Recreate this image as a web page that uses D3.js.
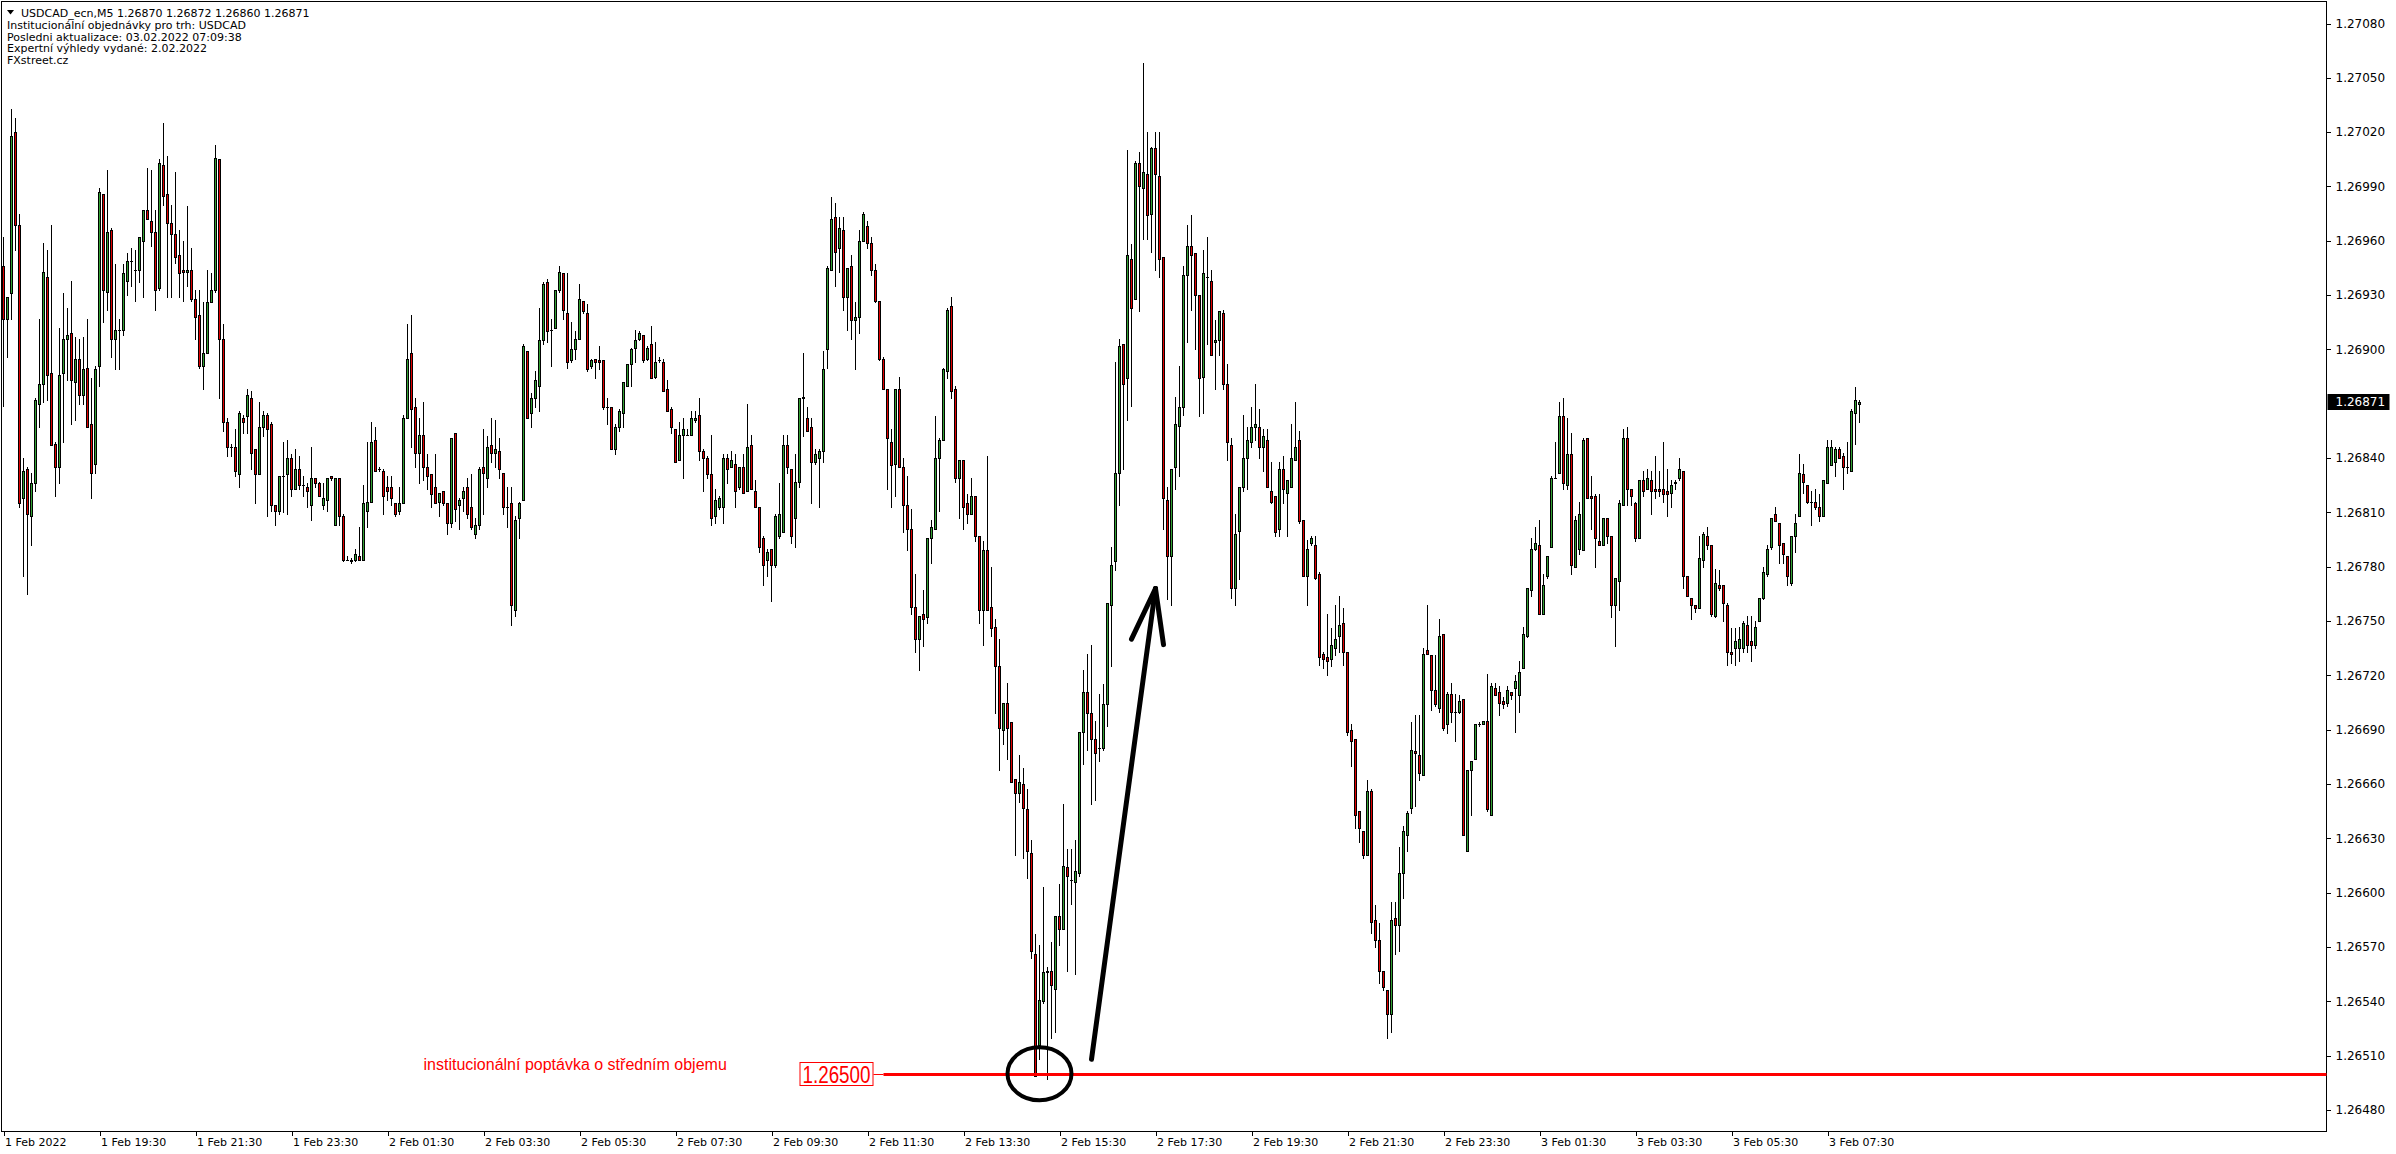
<!DOCTYPE html>
<html><head><meta charset="utf-8">
<script src="https://cdn.jsdelivr.net/npm/d3@7"></script>
<style>
html,body{margin:0;padding:0;background:#fff;overflow:hidden;}
svg{display:block;}
</style></head><body>
<svg id="chart" width="2396" height="1154"></svg>
<script>
// ---------- DATA (prices in 1/100000 above 1.26000) ----------
const BASE = 1.26;
const START = "2022-02-01 17:30"; // first 5-minute bar
const opens = [
946,917,931,1020,969,818,834,808,826,870,
881,940,887,848,835,887,906,909,882,895,
875,890,859,837,891,986,932,966,906,911,
911,938,949,944,944,960,977,971,965,934,
1002,986,970,964,952,944,943,944,928,919,
891,898,926,933,1005,906,860,846,846,831,
862,863,873,845,831,857,864,859,814,811,
830,831,840,823,834,825,824,814,829,826,
814,817,830,803,829,808,784,784,784,786,
784,811,816,850,834,833,824,824,815,811,
815,862,898,868,843,853,835,831,824,816,
822,815,804,854,814,818,824,813,798,803,
835,829,847,843,844,832,813,815,756,807,
817,899,865,873,880,905,937,911,912,933,
942,920,894,900,906,927,920,891,895,894,
894,868,868,845,857,865,880,892,901,906,
908,895,903,885,894,893,878,867,856,839,
853,853,853,861,864,844,840,831,808,813,
813,840,835,837,824,835,822,847,822,813,
796,784,790,781,797,799,847,834,807,827,
873,862,857,838,840,844,900,944,973,956,
966,929,946,916,918,960,968,959,944,927,
895,878,849,837,878,835,814,801,758,740,
754,752,796,801,840,850,888,924,878,829,
839,815,809,819,797,756,789,758,747,725,
690,705,694,663,655,660,646,622,566,516,
540,556,557,547,587,580,614,607,606,611,
689,711,699,685,680,680,704,759,783,832,
903,884,950,928,1003,989,997,975,1011,996,
951,817,786,835,858,868,941,957,953,930,
885,940,938,904,905,920,881,847,768,800,
824,840,849,857,857,846,850,822,819,801,
834,821,824,839,850,806,775,793,792,776,
732,730,729,735,742,749,733,690,685,645,
634,621,656,585,574,557,546,533,586,582,
611,632,647,678,676,665,734,731,712,702,
743,693,710,700,700,707,623,668,674,693,
693,695,643,713,711,706,705,711,713,709,
724,742,767,790,792,754,775,791,829,832,
863,825,842,780,790,789,851,819,819,794,
792,807,797,759,772,814,851,823,815,796,
828,823,828,823,823,823,822,821,826,829,
833,775,763,759,757,784,797,792,753,770,
770,759,733,735,735,735,748,739,737,750,
763,776,791,809,804,793,786,771,797,808,
831,825,816,816,813,808,826,836,838,845,
841,835,833,865,870];
const highs = [
962,929,1033,1028,975,840,835,832,873,917,
959,955,969,849,912,931,923,938,907,906,
907,917,884,891,989,986,999,967,947,917,
947,953,956,955,962,977,1000,999,977,1005,
1025,1007,980,998,966,960,979,956,933,933,
926,944,942,1013,1005,914,862,848,856,866,
864,878,877,845,871,866,865,860,814,830,
849,850,842,845,841,830,826,846,829,827,
826,829,830,829,829,809,786,785,790,802,
825,849,860,857,835,834,830,830,815,824,
864,914,919,873,862,871,842,831,842,821,
822,815,851,854,818,824,829,831,807,835,
856,852,862,861,851,832,824,824,808,816,
903,899,876,888,923,937,939,917,933,946,
942,942,915,910,936,927,925,895,895,902,
894,873,868,859,867,882,892,901,911,910,
908,902,913,904,896,895,883,868,856,860,
862,856,866,866,873,845,841,853,823,819,
842,842,844,842,835,842,870,853,828,813,
797,790,790,809,826,853,853,834,842,873,
898,868,862,845,845,899,946,984,981,973,
973,945,952,926,966,976,971,962,947,927,
896,878,856,878,885,840,830,812,776,753,
767,796,806,863,851,890,923,929,880,839,
839,820,829,819,797,794,841,780,751,740,
705,716,694,663,676,669,657,629,577,571,
603,559,573,587,605,649,624,624,629,689,
723,732,737,695,710,715,760,791,893,906,
903,1010,958,1004,1009,1058,1020,1012,1020,1020,
951,824,834,874,891,946,969,974,953,930,
955,962,944,916,921,922,892,851,809,824,
864,857,868,881,867,856,856,838,819,838,
841,828,859,871,855,806,795,797,797,777,
733,754,746,759,764,757,733,693,685,645,
634,662,657,593,583,557,546,595,595,625,
637,645,694,698,698,735,759,731,731,751,
743,711,716,710,709,707,668,673,693,694,
695,721,716,716,714,708,714,711,720,728,
747,768,796,802,806,776,786,830,849,871,
873,862,854,808,816,851,851,830,820,820,
807,807,797,774,817,856,857,823,816,828,
833,834,833,841,833,849,834,828,828,840,
833,775,763,759,797,799,802,792,779,778,
770,760,746,746,747,750,753,753,750,763,
780,792,807,813,804,793,786,797,809,842,
837,825,822,823,820,828,850,850,846,846,
843,849,867,879,872];
const lows = [
869,896,917,955,813,775,765,792,822,857,
871,872,847,819,826,849,883,859,861,870,
870,857,818,832,880,915,922,896,889,889,
908,930,935,927,937,929,972,957,922,933,
980,929,929,948,929,927,935,927,906,890,
878,898,926,932,873,855,841,841,830,824,
854,854,834,815,831,852,808,811,803,809,
810,809,819,823,823,819,813,806,824,819,
812,811,828,803,803,783,784,782,783,784,
784,802,816,833,833,809,817,814,808,809,
815,862,846,835,826,828,823,813,815,808,
814,798,802,805,801,811,807,801,796,801,
809,824,838,835,829,809,802,748,753,796,
817,862,857,868,866,903,904,891,912,932,
917,890,893,895,906,920,888,890,884,889,
867,859,845,842,855,857,880,880,893,905,
893,894,884,884,893,877,866,854,838,839,
829,853,853,860,839,822,829,803,804,812,
804,826,835,813,823,821,822,823,813,788,
770,775,761,780,796,799,832,793,791,824,
852,855,815,837,813,838,890,944,935,943,
922,911,906,889,909,960,956,941,926,894,
878,823,813,819,835,799,789,754,733,723,
736,749,782,801,811,850,884,873,827,807,
801,804,809,794,749,737,756,742,699,668,
682,674,661,621,650,619,608,564,499,508,
539,497,520,523,571,580,557,594,555,609,
671,679,649,651,673,679,692,725,778,814,
834,861,869,928,921,961,961,954,944,940,
801,762,759,823,830,864,904,922,900,863,
865,903,897,878,897,878,839,763,759,773,
822,823,846,850,840,833,824,815,797,797,
815,797,824,839,804,775,759,792,773,726,
724,720,725,731,733,726,687,670,636,628,
619,621,578,570,550,546,520,523,566,568,
597,623,644,648,662,665,732,701,703,700,
690,688,694,684,699,632,623,643,674,692,
693,645,643,709,698,702,703,707,689,700,
724,741,764,789,754,754,774,791,829,832,
823,823,776,780,787,789,818,801,780,792,
792,793,752,736,756,814,814,814,794,796,
819,823,809,818,819,816,808,813,823,828,
768,764,751,755,757,780,790,753,752,767,
750,726,727,726,728,733,733,728,735,750,
762,775,790,805,782,782,770,770,788,808,
821,815,803,812,805,808,826,836,830,840,
823,832,833,848,860];
const closes = [
917,929,1018,969,815,833,809,826,872,881,
943,886,847,835,886,906,908,883,895,875,
889,857,832,889,987,933,965,906,911,911,
942,949,949,944,962,977,972,965,933,1003,
985,970,964,951,942,943,944,928,918,891,
898,926,933,1006,906,860,846,846,833,865,
860,875,843,831,857,864,856,814,811,830,
830,840,823,834,825,825,822,829,826,819,
818,829,829,829,808,784,784,783,787,784,
815,816,849,833,834,819,822,818,809,815,
862,895,867,843,853,835,830,820,815,821,
815,804,851,812,817,822,809,802,803,834,
832,846,843,845,834,813,813,759,806,815,
902,862,873,883,905,936,910,911,933,943,
922,893,900,906,928,921,889,894,893,893,
868,868,845,857,866,882,892,900,905,909,
894,901,884,893,894,877,866,857,838,853,
856,853,862,862,844,840,831,807,817,818,
840,834,839,822,835,821,846,823,813,791,
781,788,781,808,809,847,835,797,827,873,
874,855,838,842,844,889,945,972,954,967,
929,945,916,918,960,975,959,944,927,895,
878,851,836,878,835,814,801,758,740,753,
751,796,802,840,850,889,922,877,829,839,
813,809,819,797,756,789,756,746,725,691,
705,691,661,655,661,647,623,568,499,541,
556,557,549,587,580,615,609,607,612,689,
711,699,685,677,680,704,760,781,832,902,
881,952,923,1003,990,998,974,1011,997,950,
818,786,834,859,868,941,957,952,930,884,
942,940,897,905,921,881,849,768,798,824,
840,850,857,859,846,852,824,816,799,834,
823,828,840,846,805,775,790,796,774,730,
729,728,737,740,748,733,689,684,643,636,
621,656,584,574,557,548,533,585,582,611,
634,644,679,677,666,732,732,712,704,742,
691,710,700,700,706,632,668,673,693,693,
695,646,714,709,705,704,712,709,717,722,
743,768,790,793,754,770,786,829,829,863,
826,842,781,806,809,850,818,818,796,792,
807,797,759,774,815,851,823,819,796,828,
822,829,822,822,822,820,820,825,827,834,
775,764,759,757,785,798,792,754,771,768,
760,733,732,739,740,749,737,737,747,763,
777,790,807,805,792,787,775,797,804,832,
827,816,816,813,808,828,846,846,845,840,
835,835,866,872,871];

const yTickValues = [1.26480,1.26510,1.26540,1.26570,1.26600,1.26630,1.26660,1.26690,1.26720,1.26750,
  1.26780,1.26810,1.26840,1.26900,1.26930,1.26960,1.26990,1.27020,1.27050,1.27080];
const xTickTimes = ["2022-02-01 17:30","2022-02-01 19:30","2022-02-01 21:30","2022-02-01 23:30",
  "2022-02-02 01:30","2022-02-02 03:30","2022-02-02 05:30","2022-02-02 07:30","2022-02-02 09:30",
  "2022-02-02 11:30","2022-02-02 13:30","2022-02-02 15:30","2022-02-02 17:30","2022-02-02 19:30",
  "2022-02-02 21:30","2022-02-02 23:30","2022-02-03 01:30","2022-02-03 03:30","2022-02-03 05:30",
  "2022-02-03 07:30"];
const xTickLabels = ["1 Feb 2022","1 Feb 19:30","1 Feb 21:30","1 Feb 23:30","2 Feb 01:30","2 Feb 03:30",
  "2 Feb 05:30","2 Feb 07:30","2 Feb 09:30","2 Feb 11:30","2 Feb 13:30","2 Feb 15:30","2 Feb 17:30",
  "2 Feb 19:30","2 Feb 21:30","2 Feb 23:30","3 Feb 01:30","3 Feb 03:30","3 Feb 05:30","3 Feb 07:30"];
const headerTitle = "USDCAD_ecn,M5  1.26870 1.26872 1.26860 1.26871";
const headerLines = ["Institucionální objednávky pro trh: USDCAD","Posledni aktualizace: 03.02.2022 07:09:38",
  "Expertní výhledy vydané: 2.02.2022","FXstreet.cz"];
const lastPrice = 1.26871;
const levelPrice = 1.26500;
const levelLabel = "1.26500";
const levelStart = "2022-02-02 11:50";
const levelNote = "institucionální poptávka o středním objemu";
const levelNoteTime = "2022-02-02 02:15";
const circleTime = "2022-02-02 15:05";
const arrowTimes = ["2022-02-02 16:10","2022-02-02 17:30","2022-02-02 17:00","2022-02-02 17:40"]; // tail, tip, wing L, wing R
const arrowPrices = [1.26508,1.26768,1.26740,1.26737];

// ---------- CHART ----------
const W = 2396, H = 1154;
const plotRight = 2326.5, plotBottom = 1131.5;
const GREEN = "#32a032", RED = "#e00000";
const parse = d3.timeParse("%Y-%m-%d %H:%M");
const t0 = parse(START);
const N = closes.length;
const times = d3.range(N).map(i => d3.timeMinute.offset(t0, 5 * i));
const x = d3.scaleTime().domain([t0, d3.timeMinute.offset(t0, 5 * N)]).range([3.5, 3.5 + 4 * N]);
const y = d3.scaleLinear().domain([1.26480, 1.27080]).range([1110, 23.5]);
const price = v => BASE + v / 1e5;

const svg = d3.select("#chart");
svg.append("rect").attr("width", W).attr("height", H).attr("fill", "#fff");

// candles
const bars = times.map((t, i) => ({t, o: price(opens[i]), h: price(highs[i]), l: price(lows[i]), c: price(closes[i])}));
const cg = svg.append("g").attr("shape-rendering", "crispEdges");
const cx = d => Math.round(x(d.t) - 0.5) + 0.5;
cg.selectAll("line.wick").data(bars).join("line").attr("class", "wick")
  .attr("x1", cx).attr("x2", cx)
  .attr("y1", d => Math.round(y(Math.max(d.h, d.o, d.c))))
  .attr("y2", d => Math.round(y(Math.min(d.l, d.o, d.c))) + 1)
  .attr("stroke", "#000").attr("stroke-width", 1);
const bodies = bars.filter(d => Math.round(y(d.o)) !== Math.round(y(d.c)));
const dojis = bars.filter(d => Math.round(y(d.o)) === Math.round(y(d.c)));
cg.selectAll("rect.body").data(bodies).join("rect").attr("class", "body")
  .attr("x", d => cx(d) - 1)
  .attr("y", d => Math.min(Math.round(y(d.o)), Math.round(y(d.c))) + 0.5)
  .attr("width", 2)
  .attr("height", d => Math.abs(Math.round(y(d.o)) - Math.round(y(d.c))))
  .attr("fill", d => d.c > d.o ? GREEN : RED)
  .attr("stroke", "#000").attr("stroke-width", 1);
cg.selectAll("line.doji").data(dojis).join("line").attr("class", "doji")
  .attr("x1", d => cx(d) - 1.5).attr("x2", d => cx(d) + 1.5)
  .attr("y1", d => Math.round(y(d.o)) + 0.5).attr("y2", d => Math.round(y(d.o)) + 0.5)
  .attr("stroke", "#000");

// frame
svg.append("rect").attr("x", 1.5).attr("y", 1.5).attr("width", plotRight - 1.5).attr("height", plotBottom - 1.5)
  .attr("fill", "none").attr("stroke", "#000").attr("shape-rendering", "crispEdges");

// y axis
const ya = svg.append("g").attr("transform", `translate(${plotRight},0)`)
  .call(d3.axisRight(y).tickValues(yTickValues).tickSize(4).tickPadding(5).tickFormat(d3.format(".5f")));
ya.select(".domain").remove();
ya.selectAll("line").attr("stroke", "#000").attr("shape-rendering", "crispEdges");
ya.selectAll("text").attr("font-family", "DejaVu Sans, sans-serif").attr("font-size", 12).attr("fill", "#000");

// x axis
const tickDates = xTickTimes.map(parse);
const xa = svg.append("g").attr("transform", `translate(0,${plotBottom})`)
  .call(d3.axisBottom(x).tickValues(tickDates).tickSize(4).tickPadding(3).tickFormat((d, i) => xTickLabels[i]));
xa.select(".domain").remove();
xa.selectAll("line").attr("stroke", "#000").attr("shape-rendering", "crispEdges");
xa.selectAll("text").attr("font-family", "DejaVu Sans, sans-serif").attr("font-size", 11).attr("fill", "#000")
  .attr("text-anchor", "start").attr("x", 1);

// last price label
const yl = y(lastPrice);
svg.append("rect").attr("x", plotRight + 1).attr("y", Math.round(yl) - 8).attr("width", 62).attr("height", 16).attr("fill", "#000");
svg.append("text").attr("x", plotRight + 9).attr("y", yl).attr("dy", "0.35em")
  .attr("font-family", "DejaVu Sans, sans-serif").attr("font-size", 12).attr("fill", "#fff").text(d3.format(".5f")(lastPrice));

// header
const hd = svg.append("g").attr("font-family", "DejaVu Sans, sans-serif").attr("font-size", 11).attr("fill", "#000");
hd.append("path").attr("d", "M7,10 L14,10 L10.5,14.5 Z").attr("fill", "#000");
hd.append("text").attr("x", 21).attr("y", 17).text(headerTitle);
headerLines.forEach((s, i) => hd.append("text").attr("x", 7).attr("y", 29 + i * 11.7).text(s));

// level annotation
const yLev = Math.round(y(levelPrice)) + 0.5;
const xLev = x(parse(levelStart));
svg.append("line").attr("x1", xLev).attr("x2", plotRight).attr("y1", yLev).attr("y2", yLev)
  .attr("stroke", "#ff0000").attr("stroke-width", 3);
svg.append("line").attr("x1", xLev - 10).attr("x2", xLev).attr("y1", yLev).attr("y2", yLev)
  .attr("stroke", "#ff0000").attr("stroke-width", 1);
svg.append("rect").attr("x", xLev - 83.5).attr("y", yLev - 12).attr("width", 73).attr("height", 23)
  .attr("fill", "#fff").attr("stroke", "#ff0000").attr("stroke-width", 1);
svg.append("text").attr("x", xLev - 81).attr("y", yLev + 8).attr("font-family", "Liberation Sans, Arial, sans-serif")
  .attr("font-size", 23).attr("fill", "#ff0000").attr("textLength", 68).attr("lengthAdjust", "spacingAndGlyphs").text(levelLabel);
svg.append("text").attr("x", x(parse(levelNoteTime))).attr("y", yLev - 5).attr("font-family", "Liberation Sans, Arial, sans-serif")
  .attr("font-size", 16).attr("fill", "#ff0000").text(levelNote);

// circle around the low
svg.append("ellipse").attr("cx", x(parse(circleTime))).attr("cy", y(levelPrice)).attr("rx", 32).attr("ry", 26.5)
  .attr("fill", "none").attr("stroke", "#000").attr("stroke-width", 4);

// arrow
const ap = arrowTimes.map((s, i) => [x(parse(s)), y(arrowPrices[i])]);
const ag = svg.append("g").attr("stroke", "#000").attr("stroke-width", 5).attr("stroke-linecap", "round").attr("fill", "none");
ag.append("line").attr("x1", ap[0][0]).attr("y1", ap[0][1]).attr("x2", ap[1][0]).attr("y2", ap[1][1]);
ag.append("line").attr("x1", ap[1][0]).attr("y1", ap[1][1]).attr("x2", ap[2][0]).attr("y2", ap[2][1]);
ag.append("line").attr("x1", ap[1][0]).attr("y1", ap[1][1]).attr("x2", ap[3][0]).attr("y2", ap[3][1]);
</script>
</body></html>
